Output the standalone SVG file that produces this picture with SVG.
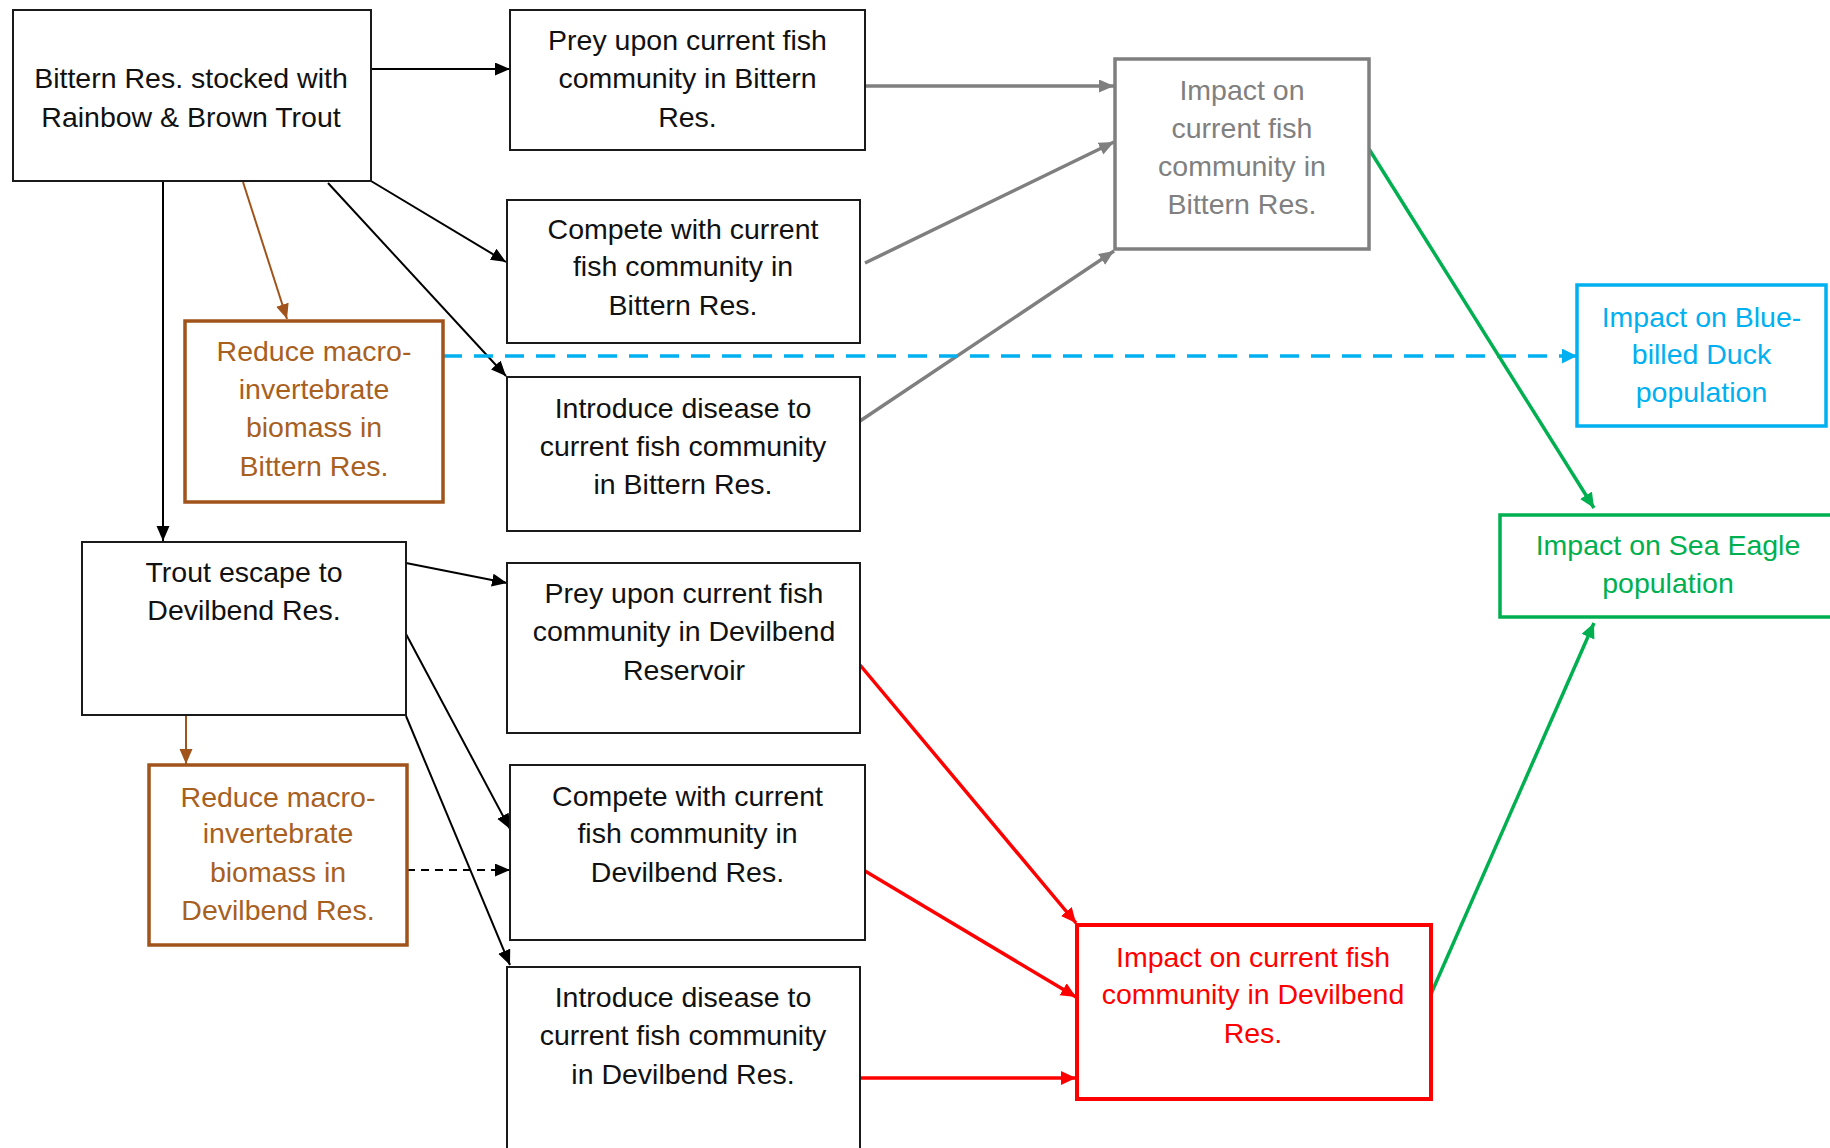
<svg xmlns="http://www.w3.org/2000/svg" width="1830" height="1148" viewBox="0 0 1830 1148">
<defs>
<style>
text{font-family:"Liberation Sans",Arial,sans-serif;font-size:28.5px;text-anchor:middle}
.bk rect{fill:#fff;stroke:#1a1a1a;stroke-width:2}
.bk text{fill:#111}
.gr rect{fill:#fff;stroke:#7f7f7f;stroke-width:3.5}
.gr text{fill:#808080}
.bl rect{fill:#fff;stroke:#00b0f0;stroke-width:3.5}
.bl text{fill:#00b0f0}
.gn rect{fill:#fff;stroke:#00b050;stroke-width:3.5}
.gn text{fill:#00b050}
.rd rect{fill:#fff;stroke:#ff0000;stroke-width:4}
.rd text{fill:#ff0000}
.br rect{fill:#fff;stroke:#a0541b;stroke-width:3.5}
.br text{fill:#a8601f}
.c line{fill:none}
</style>
<marker id="aK" markerUnits="userSpaceOnUse" markerWidth="16" markerHeight="14" refX="15" refY="6.5" orient="auto"><path d="M0,0 L15,6.5 L0,13 z" fill="#000"/></marker>
<marker id="aG" markerUnits="userSpaceOnUse" markerWidth="16" markerHeight="14" refX="15" refY="6.5" orient="auto"><path d="M0,0 L15,6.5 L0,13 z" fill="#7f7f7f"/></marker>
<marker id="aB" markerUnits="userSpaceOnUse" markerWidth="16" markerHeight="14" refX="15" refY="6.5" orient="auto"><path d="M0,0 L15,6.5 L0,13 z" fill="#a0541b"/></marker>
<marker id="aC" markerUnits="userSpaceOnUse" markerWidth="16" markerHeight="16" refX="15" refY="7.5" orient="auto"><path d="M0,0 L15,7.5 L0,15 z" fill="#00b0f0"/></marker>
<marker id="aN" markerUnits="userSpaceOnUse" markerWidth="16" markerHeight="16" refX="15" refY="7" orient="auto"><path d="M0,0 L15,7 L0,14 z" fill="#00b050"/></marker>
<marker id="aR" markerUnits="userSpaceOnUse" markerWidth="16" markerHeight="16" refX="15" refY="7" orient="auto"><path d="M0,0 L15,7 L0,14 z" fill="#ff0000"/></marker>
</defs>
<rect width="1830" height="1148" fill="#fff"/>

<g id="connectors" class="c">
<line x1="371" y1="69" x2="510" y2="69" stroke="#000" stroke-width="2" marker-end="url(#aK)"/>
<line x1="371" y1="181" x2="506" y2="262" stroke="#000" stroke-width="2" marker-end="url(#aK)"/>
<line x1="328" y1="183" x2="506" y2="376" stroke="#000" stroke-width="2" marker-end="url(#aK)"/>
<line x1="163" y1="181" x2="163" y2="541" stroke="#000" stroke-width="2" marker-end="url(#aK)"/>
<line x1="243" y1="182" x2="287" y2="319" stroke="#a0541b" stroke-width="2" marker-end="url(#aB)"/>
<line x1="865" y1="86" x2="1114" y2="86" stroke="#7f7f7f" stroke-width="3.5" marker-end="url(#aG)"/>
<line x1="865" y1="263" x2="1114" y2="142" stroke="#7f7f7f" stroke-width="3.5" marker-end="url(#aG)"/>
<line x1="860" y1="421" x2="1114" y2="251" stroke="#7f7f7f" stroke-width="3.5" marker-end="url(#aG)"/>
<line x1="443" y1="356" x2="1577" y2="356" stroke="#00b0f0" stroke-width="3.5" stroke-dasharray="19 12" marker-end="url(#aC)"/>
<line x1="1369" y1="149" x2="1594" y2="508" stroke="#00b050" stroke-width="3.5" marker-end="url(#aN)"/>
<line x1="1431" y1="994" x2="1594" y2="623" stroke="#00b050" stroke-width="3.5" marker-end="url(#aN)"/>
<line x1="406" y1="563" x2="507" y2="583" stroke="#000" stroke-width="2" marker-end="url(#aK)"/>
<line x1="406" y1="634" x2="510" y2="829" stroke="#000" stroke-width="2" marker-end="url(#aK)"/>
<line x1="406" y1="716" x2="510" y2="965" stroke="#000" stroke-width="2" marker-end="url(#aK)"/>
<line x1="186" y1="715" x2="186" y2="764" stroke="#a0541b" stroke-width="2" marker-end="url(#aB)"/>
<line x1="407" y1="870" x2="510" y2="870" stroke="#000" stroke-width="2" stroke-dasharray="8 6" marker-end="url(#aK)"/>
<line x1="860" y1="665" x2="1076" y2="923" stroke="#ff0000" stroke-width="3.5" marker-end="url(#aR)"/>
<line x1="865" y1="871" x2="1076" y2="997" stroke="#ff0000" stroke-width="3.5" marker-end="url(#aR)"/>
<line x1="860" y1="1078" x2="1076" y2="1078" stroke="#ff0000" stroke-width="3.5" marker-end="url(#aR)"/>
</g>

<g id="n-bittern" class="bk">
<rect x="13" y="10" width="358" height="171"/>
<text x="191" y="88">Bittern Res. stocked with</text>
<text x="191" y="127">Rainbow &amp; Brown Trout</text>
</g>
<g id="n-prey1" class="bk">
<rect x="510" y="10" width="355" height="140"/>
<text x="687.5" y="50">Prey upon current fish</text>
<text x="687.5" y="88">community in Bittern</text>
<text x="687.5" y="127">Res.</text>
</g>
<g id="n-compete1" class="bk">
<rect x="507" y="200" width="353" height="143"/>
<text x="683" y="239">Compete with current</text>
<text x="683" y="276">fish community in</text>
<text x="683" y="315">Bittern Res.</text>
</g>
<g id="n-intro1" class="bk">
<rect x="507" y="377" width="353" height="154"/>
<text x="683" y="418">Introduce disease to</text>
<text x="683" y="456">current fish community</text>
<text x="683" y="494">in Bittern Res.</text>
</g>
<g id="n-impact-bittern" class="gr">
<rect x="1115" y="59" width="254" height="190"/>
<text x="1242" y="100">Impact on</text>
<text x="1242" y="138">current fish</text>
<text x="1242" y="176">community in</text>
<text x="1242" y="214">Bittern Res.</text>
</g>
<g id="n-blue" class="bl">
<rect x="1577" y="285" width="249" height="141"/>
<text x="1701.5" y="327">Impact on Blue-</text>
<text x="1701.5" y="364">billed Duck</text>
<text x="1701.5" y="402">population</text>
</g>
<g id="n-reduce1" class="br">
<rect x="185" y="321" width="258" height="181"/>
<text x="314" y="361">Reduce macro-</text>
<text x="314" y="399">invertebrate</text>
<text x="314" y="437">biomass in</text>
<text x="314" y="476">Bittern Res.</text>
</g>
<g id="n-seaeagle" class="gn">
<rect x="1500" y="515" width="340" height="102"/>
<text x="1668" y="555">Impact on Sea Eagle</text>
<text x="1668" y="593">population</text>
</g>
<g id="n-trout" class="bk">
<rect x="82" y="542" width="324" height="173"/>
<text x="244" y="582">Trout escape to</text>
<text x="244" y="620">Devilbend Res.</text>
</g>
<g id="n-prey2" class="bk">
<rect x="507" y="563" width="353" height="170"/>
<text x="684" y="603">Prey upon current fish</text>
<text x="684" y="641">community in Devilbend</text>
<text x="684" y="680">Reservoir</text>
</g>
<g id="n-compete2" class="bk">
<rect x="510" y="765" width="355" height="175"/>
<text x="687.5" y="806">Compete with current</text>
<text x="687.5" y="843">fish community in</text>
<text x="687.5" y="882">Devilbend Res.</text>
</g>
<g id="n-reduce2" class="br">
<rect x="149" y="765" width="258" height="180"/>
<text x="278" y="807">Reduce macro-</text>
<text x="278" y="843">invertebrate</text>
<text x="278" y="882">biomass in</text>
<text x="278" y="920">Devilbend Res.</text>
</g>
<g id="n-intro2" class="bk">
<rect x="507" y="967" width="353" height="200"/>
<text x="683" y="1007">Introduce disease to</text>
<text x="683" y="1045">current fish community</text>
<text x="683" y="1084">in Devilbend Res.</text>
</g>
<g id="n-impact-devilbend" class="rd">
<rect x="1077" y="925" width="354" height="174"/>
<text x="1253" y="967">Impact on current fish</text>
<text x="1253" y="1004">community in Devilbend</text>
<text x="1253" y="1043">Res.</text>
</g>
</svg>
